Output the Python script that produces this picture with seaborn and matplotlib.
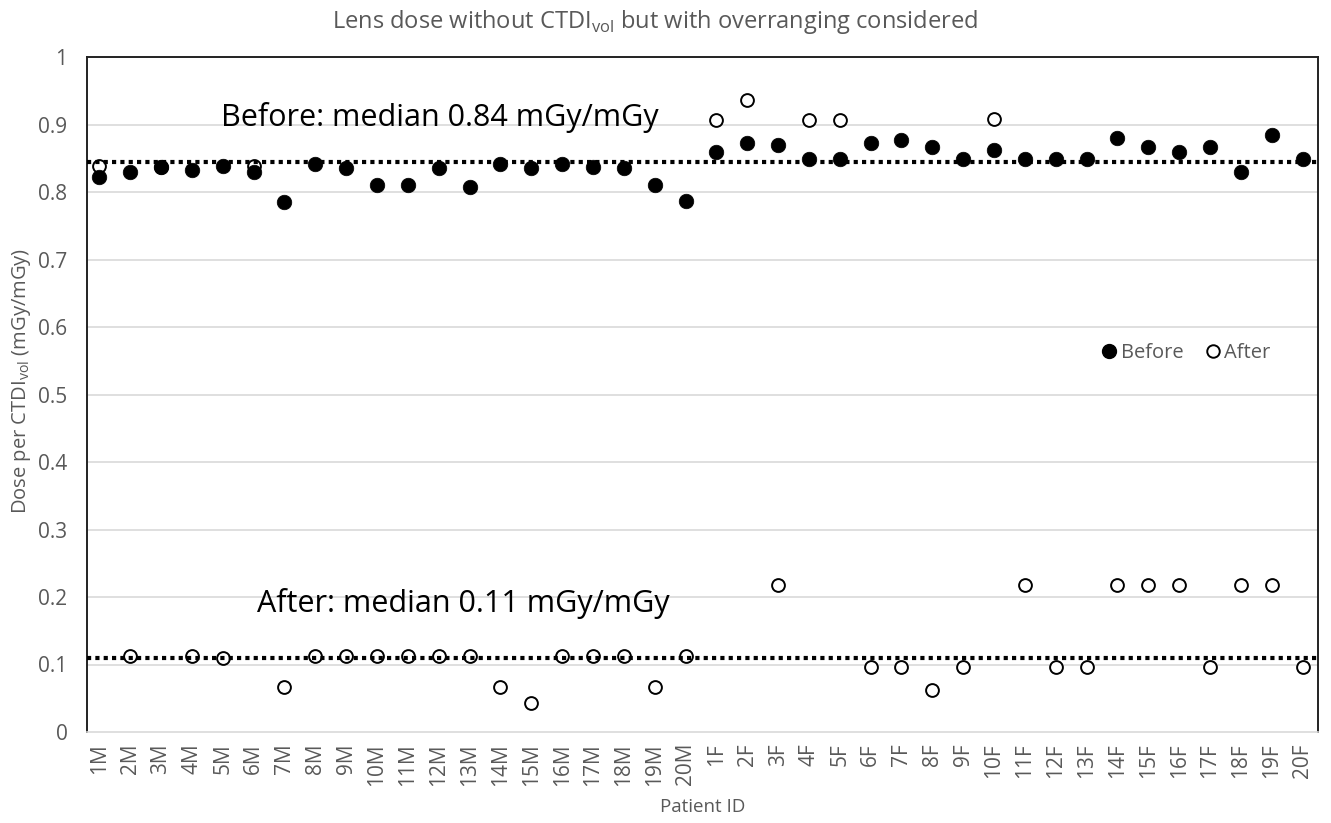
import matplotlib
matplotlib.use("Agg")
import matplotlib.pyplot as plt
import seaborn as sns
import pandas as pd
from matplotlib.lines import Line2D

patients = [f"{i}M" for i in range(1, 21)] + [f"{i}F" for i in range(1, 21)]

before = [0.822, 0.829, 0.837, 0.833, 0.839, 0.829, 0.785, 0.841, 0.835, 0.810,
          0.810, 0.835, 0.808, 0.842, 0.835, 0.842, 0.837, 0.836, 0.810, 0.787,
          0.859, 0.872, 0.869, 0.849, 0.849, 0.872, 0.877, 0.867, 0.849, 0.862,
          0.849, 0.849, 0.849, 0.880, 0.867, 0.860, 0.867, 0.829, 0.885, 0.849]

after = [0.838, 0.113, 0.837, 0.113, 0.110, 0.838, 0.067, 0.113, 0.113, 0.113,
         0.113, 0.113, 0.113, 0.067, 0.043, 0.113, 0.113, 0.113, 0.067, 0.113,
         0.906, 0.937, 0.218, 0.906, 0.906, 0.096, 0.096, 0.062, 0.096, 0.908,
         0.218, 0.096, 0.096, 0.218, 0.218, 0.218, 0.096, 0.218, 0.218, 0.096]

median_before = 0.845
median_after = 0.109
y_ticks = [0, 0.1, 0.2, 0.3, 0.4, 0.5, 0.6, 0.7, 0.8, 0.9, 1]
y_tick_labels = ["0", "0.1", "0.2", "0.3", "0.4", "0.5", "0.6", "0.7", "0.8", "0.9", "1"]

df = pd.DataFrame({"Patient": patients, "Before": before, "After": after})

sns.set_theme(style="white")
plt.rcParams['font.family'] = ['Open Sans', 'DejaVu Sans']

fig = plt.figure(figsize=(13.31, 8.23), dpi=100)
ax = fig.add_axes([87 / 1331, 1 - 732 / 823, (1318 - 87) / 1331, (732 - 57) / 823])

grey = "#595959"
for y in y_ticks[1:]:
    ax.axhline(y, color="#d9d9d9", lw=1.2, zorder=0)

sns.scatterplot(data=df, x="Patient", y="After", ax=ax, s=85, facecolor="white",
                edgecolor="black", linewidth=1.4, zorder=3, legend=False)
sns.scatterplot(data=df, x="Patient", y="Before", ax=ax, s=110, color="black",
                edgecolor="black", linewidth=0.5, zorder=4, legend=False)

ax.axhline(median_before, color="black", lw=3, ls=(0, (1, 1)), zorder=5)
ax.axhline(median_after, color="black", lw=3, ls=(0, (1, 1)), zorder=5)

ax.text(3.95, 0.91, "Before: median 0.84 mGy/mGy", fontsize=22, color="black",
        ha="left", va="center", zorder=6)
ax.text(5.1, 0.19, "After: median 0.11 mGy/mGy", fontsize=22, color="black",
        ha="left", va="center", zorder=6)

ax.set_xlim(-0.4, 39.5)
ax.set_ylim(0, 1)
ax.set_yticks(y_ticks)
ax.set_yticklabels(y_tick_labels)
ax.tick_params(axis="y", colors=grey, labelsize=15, length=0, pad=14)
ax.tick_params(axis="x", colors=grey, labelsize=15, length=0, rotation=90, pad=8)

ax.set_xlabel("Patient ID", color=grey, fontsize=13.5, labelpad=9)
ax.set_ylabel("Dose per CTDI$_{\\mathregular{vol}}$ (mGy/mGy)", color=grey, fontsize=14.5)
ax.yaxis.set_label_coords(-0.044, 0.52)
fig.text(655 / 1331, 1 - 22 / 823,
         "Lens dose without CTDI$_{\\mathregular{vol}}$ but with overranging considered",
         color=grey, fontsize=17, ha="center", va="center")

for side in ["left", "top", "right"]:
    ax.spines[side].set_visible(True)
    ax.spines[side].set_color("#222222")
    ax.spines[side].set_linewidth(1.4)
ax.spines["bottom"].set_color("#d9d9d9")
ax.spines["bottom"].set_linewidth(1.2)

handles = [Line2D([], [], marker="o", ls="", markerfacecolor="black", markeredgecolor="black", markersize=10),
           Line2D([], [], marker="o", ls="", markerfacecolor="white", markeredgecolor="black",
                  markeredgewidth=1.4, markersize=9)]
leg = ax.legend(handles, ["Before", "After"], loc="center", bbox_to_anchor=(0.892, 0.561),
                ncol=2, frameon=False, fontsize=14.5, handletextpad=0.05, columnspacing=1.0,
                handlelength=1.0)
for t in leg.get_texts():
    t.set_color(grey)

fig.savefig("out.png", dpi=100)
